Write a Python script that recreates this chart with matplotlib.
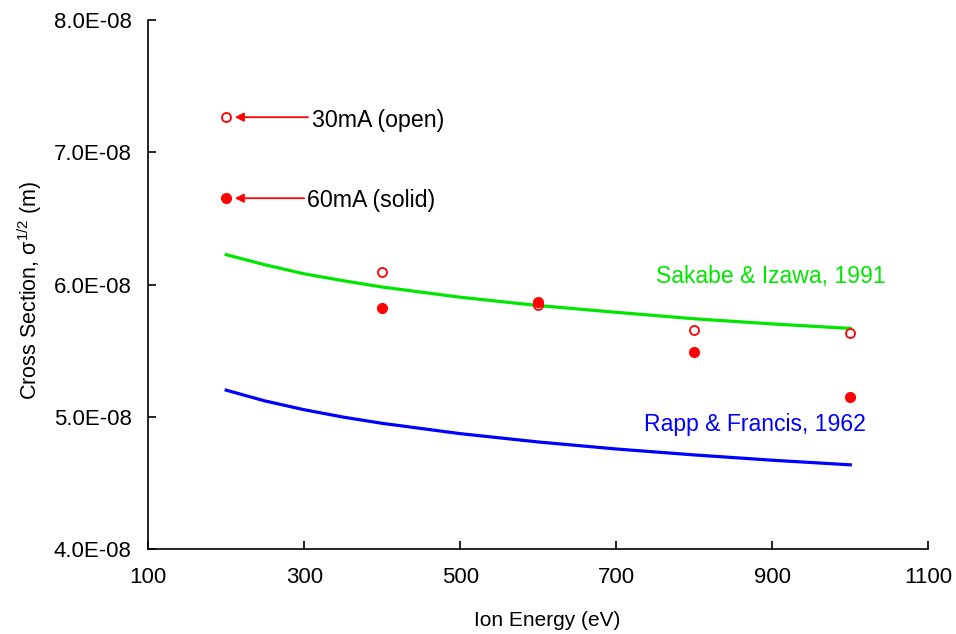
import matplotlib
matplotlib.use('Agg')
import matplotlib.pyplot as plt
from matplotlib.ticker import FuncFormatter, MultipleLocator

plt.rcParams['font.family'] = ['Liberation Sans', 'DejaVu Sans']
plt.rcParams['mathtext.fontset'] = 'custom'
plt.rcParams['mathtext.rm'] = 'Liberation Sans'
plt.rcParams['mathtext.it'] = 'Liberation Sans'

# Ion energy (eV) for the measurements
energia = [200, 400, 600, 800, 1000]
# 30 mA (open circles) and 60 mA (solid circles), sigma^1/2 in m
sec_30mA = [7.267e-08, 6.097e-08, 5.845e-08, 5.656e-08, 5.631e-08]
sec_60mA = [6.654e-08, 5.822e-08, 5.870e-08, 5.487e-08, 5.149e-08]

# curves from the literature
energia_curva = [200, 250, 300, 350, 400, 500, 600, 700, 800, 900, 1000]
sakabe = [6.227e-08, 6.150e-08, 6.082e-08, 6.030e-08, 5.982e-08, 5.905e-08,
          5.842e-08, 5.791e-08, 5.742e-08, 5.703e-08, 5.669e-08]
rapp = [5.202e-08, 5.120e-08, 5.054e-08, 4.998e-08, 4.951e-08, 4.873e-08,
        4.810e-08, 4.757e-08, 4.712e-08, 4.672e-08, 4.637e-08]

fig = plt.figure(figsize=(9.56, 6.34), dpi=100)
ax = fig.add_axes([0.155, 0.134, 0.816, 0.834])

ax.plot(energia_curva, sakabe, color='#00e600', lw=2.3)
ax.plot(energia_curva, rapp, color='#0000ff', lw=2.3)

ax.plot(energia, sec_30mA, 'o', ms=6.5, mfc='white', mec='red', mew=1.3, ls='none')
ax.plot(energia, sec_60mA, 'o', ms=7, mfc='red', mec='red', ls='none')

# setas das legendas
setas = dict(arrowstyle='-|>', color='red', lw=1.3, mutation_scale=13,
             shrinkA=0, shrinkB=0)
ax.annotate('', xy=(211, sec_30mA[0]), xytext=(305, sec_30mA[0]), arrowprops=setas)
ax.annotate('', xy=(211, sec_60mA[0]), xytext=(300, sec_60mA[0]), arrowprops=setas)
ax.text(310, 7.24e-08, '30mA (open)', fontsize=16.7, va='center', ha='left')
ax.text(304, 6.64e-08, '60mA (solid)', fontsize=16.7, va='center', ha='left')

ax.text(751, 6.064e-08, 'Sakabe & Izawa, 1991', color='#00e600', fontsize=16.6,
        va='center', ha='left')
ax.text(735, 4.945e-08, 'Rapp & Francis, 1962', color='#0000ff', fontsize=16.6,
        va='center', ha='left')

ax.set_xlim(100, 1100)
ax.set_ylim(4.0e-08, 8.0e-08)
ax.set_xticks([100, 300, 500, 700, 900, 1100])
ax.yaxis.set_major_locator(MultipleLocator(1.0e-08))
ax.yaxis.set_major_formatter(FuncFormatter(lambda v, p: f'{v:.1E}'))

ax.spines['top'].set_visible(False)
ax.spines['right'].set_visible(False)
ax.spines['left'].set_linewidth(1.2)
ax.spines['bottom'].set_linewidth(1.2)
ax.tick_params(direction='in', length=6, width=1.2, labelsize=16)
ax.tick_params(axis='y', pad=12)
ax.tick_params(axis='x', pad=13)

ax.set_xlabel('Ion Energy (eV)', fontsize=15)
ax.set_ylabel(r'Cross Section, σ$^{\mathrm{1/2}}$ (m)', fontsize=15.5)
ax.xaxis.set_label_coords(0.512, -0.117)
ax.yaxis.set_label_coords(-0.133, 0.49)

plt.savefig('out.png', dpi=100)
